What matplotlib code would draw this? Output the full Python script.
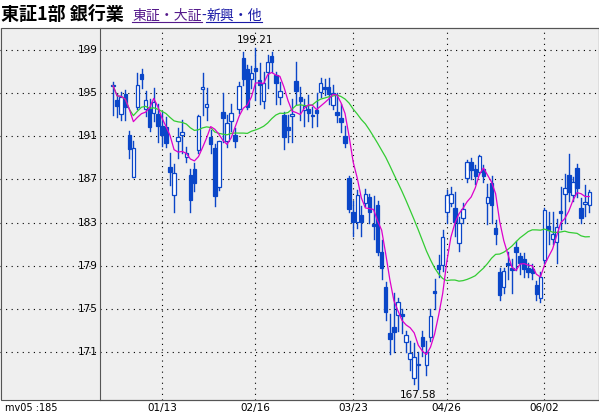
import matplotlib
matplotlib.use("Agg")
import matplotlib.pyplot as plt
import numpy as np
import pandas as pd
from matplotlib.patches import Rectangle
from matplotlib.lines import Line2D

plt.rcParams['font.family'] = ['Noto Sans CJK JP', 'DejaVu Sans']

opens = [195.8, 194.4, 193.1, 194.9, 191.1, 187.2, 193.7, 196.8, 193.5, 193.5, 193.2, 193.1, 192.0, 191.9,
         188.2, 185.6, 190.6, 191.1, 189.1, 187.4, 188.0, 189.7, 195.4, 193.7, 190.9, 189.9, 186.3, 193.3,
         190.6, 192.4, 191.1, 193.5, 198.3, 197.2, 196.3, 197.3, 196.2, 194.3, 197.0, 198.4, 196.7, 194.6,
         193.0, 191.9, 192.9, 196.1, 194.6, 193.4, 193.5, 192.95, 193.4, 195.1, 195.6, 195.6, 193.9, 193.3,
         192.7, 191.0, 187.1, 184.0, 183.1, 183.7, 184.8, 185.4, 182.9, 184.6, 180.3, 177.0, 172.8, 173.3,
         174.4, 174.5, 171.9, 170.4, 168.6, 169.8, 172.4, 169.8, 172.4, 176.7, 179.1, 179.1, 184.0, 184.8,
         184.4, 181.1, 183.4, 187.1, 188.6, 188.0, 187.7, 188.0, 184.8, 186.7, 182.5, 178.4, 177.0, 179.3,
         178.8, 180.7, 179.9, 179.6, 178.8, 178.7, 177.2, 176.0, 179.5, 182.7, 181.5, 181.2, 184.1, 185.7,
         187.4, 185.6, 188.1, 184.4, 184.7, 184.6]
highs = [196.0, 194.9, 195.1, 195.3, 191.5, 190.6, 196.9, 197.2, 195.2, 194.5, 195.5, 194.0, 193.3, 192.8,
         189.5, 188.4, 191.8, 192.5, 190.0, 188.0, 188.5, 193.0, 196.9, 195.5, 191.6, 190.3, 190.6, 195.0,
         193.0, 194.0, 191.8, 196.0, 198.8, 197.6, 197.5, 199.21, 197.8, 197.0, 198.5, 198.8, 197.0, 196.0,
         193.3, 193.0, 194.5, 197.9, 195.6, 194.5, 194.8, 193.7, 195.0, 196.4, 196.3, 196.4, 195.8, 195.0,
         194.0, 192.0, 187.3, 185.0, 186.0, 184.5, 186.1, 185.7, 185.5, 185.0, 181.4, 177.5, 174.5, 176.5,
         176.0, 175.0, 173.0, 172.0, 171.8, 171.0, 173.0, 172.0, 175.0, 177.8, 180.0, 182.3, 186.0, 186.3,
         185.8, 183.5, 184.8, 188.8, 189.0, 188.3, 189.3, 188.3, 186.6, 187.3, 183.2, 178.8, 178.8, 180.3,
         179.6, 181.3, 180.2, 180.2, 179.3, 179.2, 177.6, 178.4, 184.4, 184.0, 184.0, 183.3, 186.3, 187.5,
         189.4, 187.2, 188.4, 185.3, 186.5, 186.0]
lows = [193.0, 192.8, 192.5, 192.5, 189.0, 187.2, 193.5, 195.5, 192.9, 191.5, 192.4, 190.5, 190.1, 190.0,
        186.5, 184.0, 189.0, 189.5, 188.6, 184.0, 185.9, 189.5, 193.0, 192.5, 189.5, 184.5, 186.0, 190.5,
        190.0, 191.5, 190.0, 193.2, 195.8, 193.5, 195.5, 194.4, 194.0, 193.6, 195.5, 197.0, 194.0, 194.0,
        189.8, 190.5, 190.5, 194.0, 192.5, 192.0, 192.4, 191.9, 192.0, 194.6, 194.8, 194.0, 193.5, 192.3,
        191.4, 190.0, 184.0, 181.8, 182.5, 181.8, 184.5, 183.0, 181.5, 180.0, 177.8, 174.0, 170.8, 171.0,
        173.0, 172.8, 171.0, 169.3, 168.0, 167.58, 170.6, 168.9, 172.0, 175.0, 178.0, 178.5, 183.0, 184.5,
        181.8, 180.4, 183.0, 186.8, 187.0, 186.6, 187.5, 186.8, 182.9, 183.0, 181.0, 175.8, 176.5, 177.8,
        176.5, 178.6, 178.2, 178.0, 178.0, 177.8, 175.8, 175.6, 179.3, 181.0, 181.0, 179.3, 182.4, 183.0,
        185.0, 185.0, 185.4, 183.0, 183.6, 184.0]
closes = [195.7, 193.8, 194.6, 193.7, 189.8, 189.9, 195.8, 196.3, 194.4, 191.9, 194.2, 192.0, 191.1, 190.4,
          187.7, 187.6, 190.9, 191.4, 189.5, 185.1, 186.7, 192.9, 195.6, 194.0, 190.3, 185.5, 190.6, 192.7,
          192.2, 193.2, 190.6, 195.7, 196.3, 193.7, 196.9, 197.1, 195.8, 195.9, 197.9, 197.9, 195.9, 195.2,
          190.9, 191.6, 193.1, 195.2, 194.3, 193.8, 193.2, 192.9, 193.2, 195.9, 195.4, 194.9, 195.0, 193.0,
          192.3, 190.4, 184.3, 183.1, 185.6, 183.1, 185.7, 184.0, 182.7, 180.3, 178.8, 174.7, 172.2, 172.9,
          175.6, 174.3, 172.6, 170.9, 170.5, 169.9, 171.6, 171.0, 174.3, 176.5, 178.7, 181.7, 185.6, 185.7,
          183.1, 183.0, 184.3, 188.6, 187.9, 187.3, 189.2, 187.3, 185.4, 184.6, 181.9, 176.3, 178.5, 179.1,
          178.6, 180.3, 179.3, 178.7, 178.4, 178.3, 176.4, 178.0, 184.2, 182.3, 181.9, 182.6, 183.9, 186.2,
          185.8, 186.8, 186.2, 183.4, 184.9, 185.8]

date_labels = ["01/13", "02/16", "03/23", "04/26", "06/02"]
date_index = [12, 35, 59, 82, 106]
price_ticks = [171, 175, 179, 183, 187, 191, 195, 199]
max_label = ("199.21", 35, 199.21)
min_label = ("167.58", 75, 167.58)

blue = "#0a46c8"
bg = "#efefef"

fig = plt.figure(figsize=(5.99, 4.15), dpi=100)
fig.patch.set_facecolor("white")
ax = fig.add_axes([100 / 599, 15 / 415, 499 / 599, 372 / 415])
ax.set_facecolor(bg)
ax.set_xlim(-3.2, 119.4)
ax.set_ylim(166.56, 201.04)

# left panel background
fig.add_artist(Rectangle((0, 15 / 415), 100 / 599, 372 / 415, transform=fig.transFigure,
                         facecolor=bg, edgecolor="none", zorder=0))

x = np.arange(len(closes))
w = 0.85
for i in x:
    o, h, l, c = opens[i], highs[i], lows[i], closes[i]
    ax.plot([i, i], [l, h], color=blue, lw=1, zorder=3)
    up = c >= o
    ax.add_patch(Rectangle((i - w / 2, min(o, c)), w, max(abs(c - o), 0.08),
                           facecolor="white" if up else blue, edgecolor=blue, lw=0.9, zorder=4))

s = pd.Series(closes)
ax.plot(x, s.rolling(25, min_periods=1).mean(), color="#33cc33", lw=0.9, zorder=5)
ax.plot(x, s.rolling(5, min_periods=1).mean(), color="#dd00cc", lw=0.9, zorder=5)

# grid
for v in price_ticks:
    ax.plot([-0.2, 1], [v, v], transform=ax.get_yaxis_transform(), clip_on=False,
            color="black", lw=0.8, ls=(0, (1, 4)), zorder=1)
    ax.text(-0.004, v, str(v), transform=ax.get_yaxis_transform(), ha="right", va="center",
            fontsize=7.5, family="DejaVu Sans")
for d in date_index:
    ax.axvline(d, color="black", lw=0.8, ls=(0, (1, 4)), zorder=1)
ax.set_xticks(date_index)
ax.set_xticklabels(date_labels, fontsize=7.5, family="DejaVu Sans")
ax.tick_params(axis="x", length=0, pad=2)
ax.set_yticks([])

ax.text(max_label[1], max_label[2] + 0.3, max_label[0], ha="center", va="bottom", fontsize=7.5,
        family="DejaVu Sans")
ax.text(min_label[1], min_label[2] - 0.1, min_label[0], ha="center", va="top", fontsize=7.5,
        family="DejaVu Sans")

for sp in ax.spines.values():
    sp.set_color("#555555")
    sp.set_linewidth(0.8)
fig.add_artist(Rectangle((0.5 / 599, 15 / 415), 598 / 599, 372 / 415, transform=fig.transFigure,
                         facecolor="none", edgecolor="#555555", lw=0.8))

fig.text(5 / 599, 7 / 415, "mv05 :185", fontsize=7, va="center", family="DejaVu Sans")

# title and links
fig.text(1 / 599, 400 / 415, "東証1部 銀行業", fontsize=13, weight="bold", va="center")
fig.canvas.draw()
r = fig.canvas.get_renderer()
t1 = fig.text(132 / 599, 399 / 415, "東証・大証", fontsize=10, color="#551a8b", va="center")
bb = t1.get_window_extent(r)
t2 = fig.text(bb.x1 / 599, 399 / 415, "-", fontsize=10, color="#1a1aa6", va="center")
bb2 = t2.get_window_extent(r)
t3 = fig.text(bb2.x1 / 599, 399 / 415, "新興・他", fontsize=10, color="#1a1aa6", va="center")
bb3 = t3.get_window_extent(r)
uy = (bb.y0 + 1) / 415
fig.add_artist(Line2D([bb.x0 / 599, bb.x1 / 599], [uy, uy], transform=fig.transFigure, color="#551a8b", lw=0.8))
fig.add_artist(Line2D([bb3.x0 / 599, bb3.x1 / 599], [uy, uy], transform=fig.transFigure, color="#1a1aa6", lw=0.8))

fig.savefig("out.png", dpi=100)
